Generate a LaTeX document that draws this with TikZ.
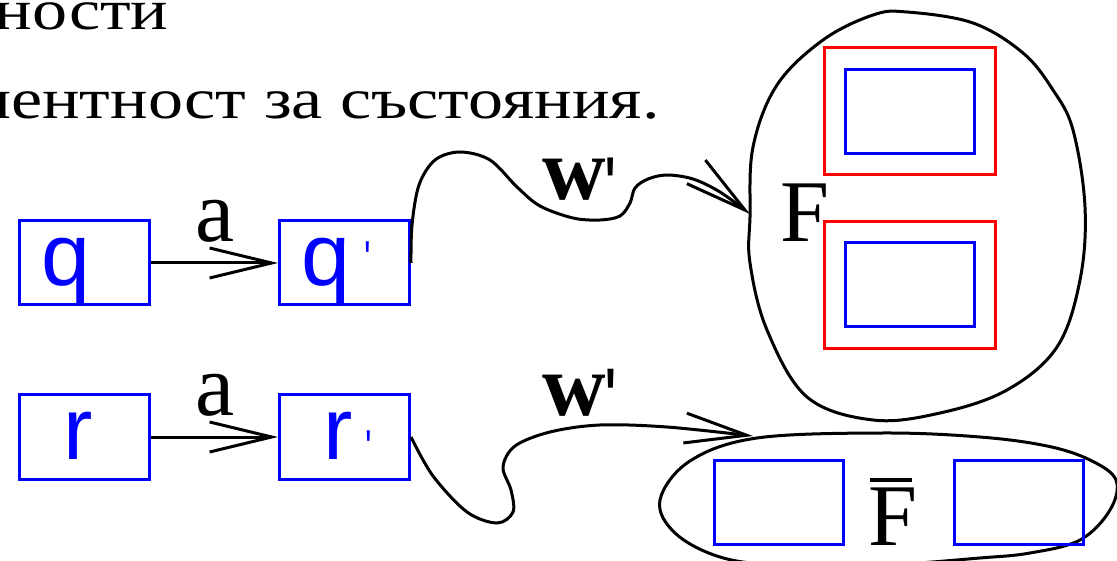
\documentclass[tikz,border=0pt]{standalone}
\usepackage{fontspec}
\newfontfamily\tms{Liberation Serif}[Ligatures=TeXOff]
\newfontfamily\hlv{Liberation Sans}[Ligatures=TeXOff]
\newfontfamily\cyrf{Liberation Serif}[FakeStretch=1.23]
\usetikzlibrary{arrows.meta}
\begin{document}
\begin{tikzpicture}[x=1pt,y=-1pt,
  line width=3pt,
  sbox/.style={draw=blue, line width=3pt, minimum width=130pt, minimum height=84pt, inner sep=0pt},
  ibox/.style={draw=blue, line width=3pt, minimum width=129pt, minimum height=84pt, inner sep=0pt},
  rbox/.style={draw=red, line width=3pt, minimum width=171pt, minimum height=127pt, inner sep=0pt},
  slbl/.style={anchor=base west, inner sep=0pt, text=blue, font=\hlv\fontsize{88}{88}\selectfont},
  tlbl/.style={anchor=base west, inner sep=0pt, font=\tms\fontsize{88}{88}\selectfont},
  cyr/.style={anchor=base east, inner sep=0pt, font=\cyrf\fontsize{57}{67}\selectfont},
  arr/.style={-{Straight Barb[length=62pt,width=30pt]}, line width=3pt},
  blob/.style={line width=3pt}
]
\useasboundingbox (0,0) rectangle (1117,561);
\clip (0,0) rectangle (1117,561);
% top text
\node[cyr] (t1) at (170,30) {ности};
\node[cyr] (t2) at (661,119) {еквивалентност за състояния.};
% state boxes
\node[sbox] (q)  at (84.5,263) {};
\node[sbox] (q1) at (344.5,263) {};
\node[sbox] (r)  at (84.5,437) {};
\node[sbox] (r1) at (344.5,437) {};
\node[slbl] (ql)  at (40,286) {q};
\node[slbl] (q1l) at (300,286) {q\hspace{14pt}\raisebox{10pt}{\fontsize{49}{49}\selectfont\scalebox{0.7}[1]{'}}};
\node[slbl] (rl)  at (62,459) {r};
\node[slbl] (r1l) at (322,459) {r\hspace{13pt}\raisebox{-5pt}{\fontsize{49}{49}\selectfont\scalebox{0.7}[1]{'}}};
% a-transitions
\draw[arr] (q) -- (q1);
\draw[arr] (r) -- (r1);
\node[tlbl] (a1) at (194,242) {a};
\node[tlbl] (a2) at (194,415) {a};
% F blob
\draw[blob] plot[smooth cycle, tension=0.6] coordinates {
  (907,12) (973,23) (1023,53) (1053,90) (1073,130) (1085,207) (1080,280)
  (1057,347) (1007,390) (940,413) (873,420) (807,397) (767,330) (750,263)
  (750,217) (753,147) (777,85) (823,40) (873,15)};
\node[rbox] (f1) at (910,111) {};
\node[ibox] (f1i) at (910,111.5) {};
\node[rbox] (f2) at (910,285.5) {};
\node[ibox] (f2i) at (910,284.5) {};
\node[tlbl] (Fl) at (779,242) {F};
% F-bar blob
\draw[blob] plot[smooth cycle, tension=0.6] coordinates {
  (660,500) (690,461) (757,438) (883,433) (980,437) (1047,446) (1090,460)
  (1116,480) (1110,510) (1080,540) (1030,553) (980,558) (883,565) (780,565)
  (720,557) (675,533)};
\node[ibox] (g1) at (779,502.5) {};
\node[ibox] (g2) at (1018.5,502.5) {};
\node[tlbl] (Fbl) at (867,545) {\makebox[0pt][l]{\hspace{1pt}\rule[63pt]{42pt}{4pt}}F};
% w' transitions
\coordinate (Ftip) at (750,214);
\coordinate (Gtip) at (753,436);
\draw[arr] plot[smooth, tension=0.55] coordinates {
  (q1.east) (412,225) (419,185) (435,160) (460,152) (490,160) (517,187)
  (540,206) (573,218) (600,220) (620,216) (630,203) (635,188) (648,179)
  (667,175) (693,179) (720,192) (Ftip)};
\draw[arr] plot[smooth, tension=0.55] coordinates {
  (r1.east) (433,476) (467,512) (497,523) (513,512) (511,490) (503,467)
  (515,446) (550,432) (600,425) (667,427) (Gtip)};
\node[tlbl] (w1) at (541,200) {\bfseries w\hspace{-1pt}{\hlv\raisebox{-8pt}{\fontsize{72}{72}\selectfont\scalebox{0.6}[1]{'}}}};
\node[tlbl] (w2) at (541,415) {\bfseries w\hspace{-1pt}{\hlv\raisebox{-6pt}{\fontsize{76}{76}\selectfont\scalebox{0.6}[1]{'}}}};
\end{tikzpicture}
\end{document}
